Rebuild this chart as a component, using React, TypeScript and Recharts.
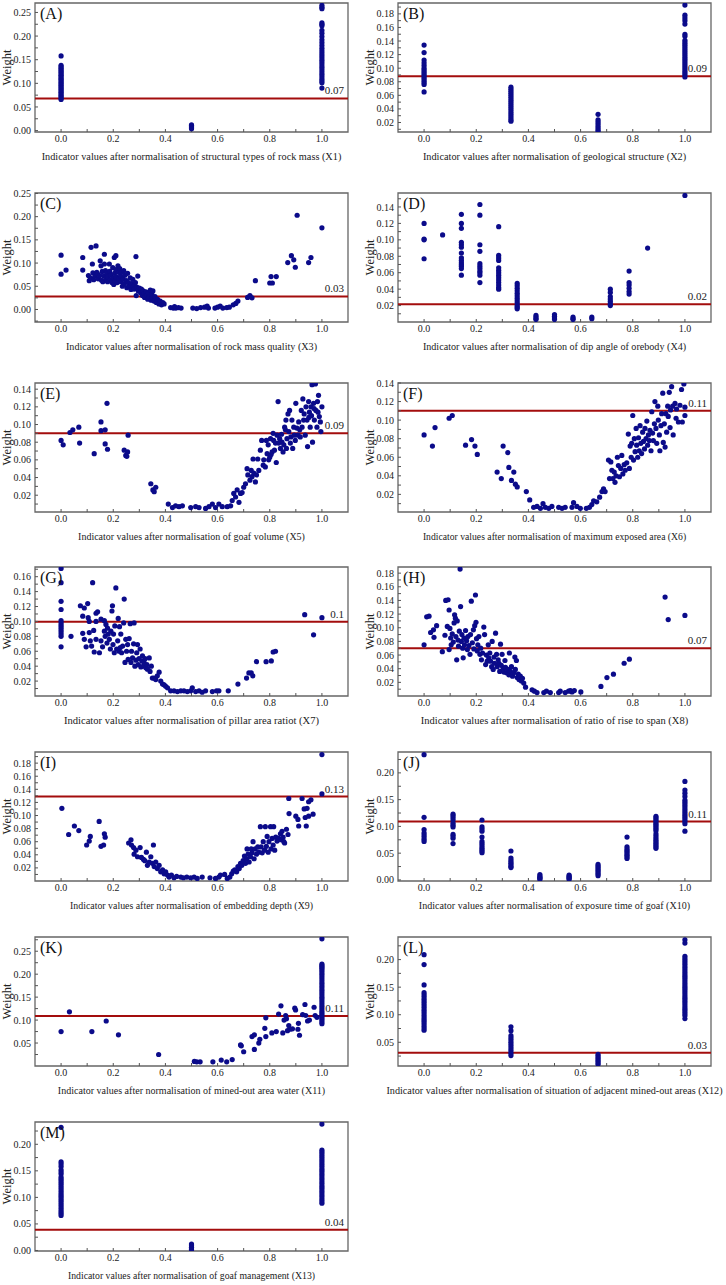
import React from 'react';
import { ScatterChart, Scatter, XAxis, YAxis, ReferenceLine, ReferenceArea, Label } from 'recharts';

type Pt = [number, number];

// ---- shared axis ticks ----
const xMajorTicks = [0, 0.2, 0.4, 0.6, 0.8, 1.0];
const xMinorTicks = [0.1, 0.3, 0.5, 0.7, 0.9];

// ---- (A) structural types of rock mass ----
const aColumns = [0, 0.5, 1];
const aWeights = [
  [0.158, 0.138, 0.135, 0.132, 0.129, 0.126, 0.123, 0.12, 0.117, 0.114, 0.111, 0.108, 0.105, 0.102, 0.099, 0.096, 0.093, 0.09, 0.087, 0.084, 0.081, 0.078, 0.075, 0.072, 0.069, 0.066],
  [0.012, 0.01, 0.008, 0.006, 0.004],
  [0.265, 0.261, 0.258, 0.228, 0.225, 0.222, 0.212, 0.206, 0.199, 0.192, 0.186, 0.18, 0.174, 0.169, 0.164, 0.159, 0.154, 0.149, 0.144, 0.139, 0.134, 0.129, 0.124, 0.119, 0.114, 0.109, 0.105, 0.101, 0.09],
];

// ---- (B) geological structure ----
const bColumns = [0, 0.333, 0.667, 1];
const bWeights = [
  [0.134, 0.123, 0.112, 0.108, 0.104, 0.1, 0.097, 0.094, 0.091, 0.088, 0.085, 0.082, 0.079, 0.076, 0.065],
  [0.072, 0.069, 0.066, 0.063, 0.06, 0.057, 0.054, 0.051, 0.048, 0.045, 0.042, 0.039, 0.036, 0.033, 0.03, 0.027, 0.024, 0.022],
  [0.032, 0.024, 0.021, 0.018, 0.015, 0.012, 0.009, 0.007],
  [0.193, 0.178, 0.174, 0.17, 0.165, 0.15, 0.147, 0.141, 0.138, 0.135, 0.132, 0.129, 0.126, 0.123, 0.12, 0.117, 0.114, 0.111, 0.108, 0.105, 0.102, 0.099, 0.096, 0.093, 0.09, 0.087],
];

// ---- (C) rock mass quality ----
const cPoints: Pt[] = [
  [0, 0.117], [0, 0.076], [0.019, 0.085], [0.083, 0.112], [0.083, 0.085], [0.105, 0.073], [0.108, 0.062], [0.113, 0.068],
  [0.115, 0.134], [0.12, 0.098], [0.122, 0.079], [0.125, 0.064], [0.13, 0.072], [0.134, 0.137], [0.137, 0.08], [0.14, 0.076],
  [0.142, 0.066], [0.148, 0.073], [0.15, 0.105], [0.153, 0.094], [0.155, 0.063], [0.158, 0.082], [0.16, 0.06], [0.164, 0.072],
  [0.166, 0.119], [0.166, 0.098], [0.17, 0.084], [0.172, 0.066], [0.175, 0.078], [0.178, 0.06], [0.18, 0.07], [0.185, 0.098],
  [0.186, 0.082], [0.19, 0.064], [0.192, 0.074], [0.195, 0.058], [0.198, 0.09], [0.2, 0.068], [0.202, 0.054], [0.204, 0.112],
  [0.205, 0.078], [0.208, 0.062], [0.21, 0.116], [0.21, 0.086], [0.212, 0.07], [0.215, 0.058], [0.218, 0.094], [0.22, 0.08],
  [0.222, 0.066], [0.225, 0.088], [0.228, 0.072], [0.23, 0.06], [0.232, 0.08], [0.235, 0.05], [0.238, 0.066], [0.24, 0.084],
  [0.243, 0.056], [0.245, 0.074], [0.25, 0.062], [0.252, 0.047], [0.255, 0.078], [0.258, 0.058], [0.262, 0.05], [0.265, 0.068],
  [0.268, 0.043], [0.27, 0.056], [0.275, 0.065], [0.278, 0.05], [0.28, 0.044], [0.285, 0.058], [0.287, 0.114], [0.288, 0.03],
  [0.29, 0.048], [0.294, 0.072], [0.296, 0.04], [0.3, 0.046], [0.305, 0.036], [0.308, 0.044], [0.312, 0.03], [0.315, 0.04],
  [0.318, 0.034], [0.32, 0.026], [0.325, 0.038], [0.328, 0.03], [0.332, 0.022], [0.335, 0.036], [0.338, 0.028], [0.342, 0.042],
  [0.345, 0.02], [0.348, 0.032], [0.35, 0.025], [0.352, 0.04], [0.356, 0.018], [0.36, 0.028], [0.365, 0.015], [0.37, 0.022],
  [0.375, 0.012], [0.38, 0.018], [0.385, 0.01], [0.39, 0.015], [0.395, 0.012],
  [0.42, 0.004], [0.43, 0.003], [0.435, 0.006], [0.44, 0.003], [0.45, 0.004], [0.46, 0.003], [0.505, 0.003], [0.52, 0.002],
  [0.535, 0.004], [0.55, 0.005], [0.56, 0.007], [0.565, 0.003], [0.59, 0.003], [0.6, 0.005], [0.61, 0.007], [0.62, 0.003],
  [0.635, 0.004], [0.645, 0.005], [0.66, 0.01], [0.67, 0.013], [0.678, 0.018],
  [0.715, 0.026], [0.724, 0.03], [0.732, 0.025], [0.745, 0.062], [0.8, 0.057], [0.805, 0.071], [0.81, 0.057], [0.825, 0.071],
  [0.869, 0.101], [0.883, 0.116], [0.892, 0.107], [0.898, 0.091], [0.905, 0.203], [0.949, 0.101], [0.958, 0.112], [1.0, 0.176],
];

// ---- (D) dip angle of orebody ----
const dColumns = [0, 0.071, 0.143, 0.214, 0.286, 0.357, 0.429, 0.5, 0.571, 0.643, 0.714, 0.786, 0.857, 1];
const dWeights = [
  [0.12, 0.101, 0.1, 0.077],
  [0.106],
  [0.131, 0.12, 0.114, 0.097, 0.094, 0.091, 0.084, 0.078, 0.075, 0.072, 0.07, 0.068, 0.065, 0.057],
  [0.143, 0.13, 0.094, 0.086, 0.071, 0.068, 0.065, 0.062, 0.06, 0.057, 0.048],
  [0.116, 0.081, 0.078, 0.075, 0.066, 0.063, 0.06, 0.057, 0.054, 0.051, 0.048, 0.045, 0.042, 0.04],
  [0.047, 0.044, 0.041, 0.038, 0.035, 0.032, 0.029, 0.026, 0.023, 0.02, 0.018, 0.016],
  [0.008, 0.006, 0.004, 0.003],
  [0.009, 0.007, 0.005, 0.003],
  [0.006, 0.004, 0.003],
  [0.006, 0.004],
  [0.04, 0.036, 0.031, 0.028, 0.025, 0.022, 0.02],
  [0.062, 0.048, 0.045, 0.041, 0.037, 0.034],
  [0.09],
  [0.154],
];

// ---- (E) goaf volume ----
const ePoints: Pt[] = [
  [0, 0.082], [0.008, 0.077], [0.034, 0.091], [0.045, 0.094], [0.068, 0.097], [0.071, 0.079], [0.127, 0.067], [0.153, 0.103],
  [0.153, 0.093], [0.169, 0.094], [0.169, 0.078], [0.176, 0.124], [0.178, 0.072], [0.242, 0.071], [0.255, 0.069], [0.248, 0.065],
  [0.257, 0.088], [0.252, 0.064], [0.344, 0.033], [0.352, 0.026], [0.363, 0.029], [0.357, 0.024],
  [0.411, 0.01], [0.427, 0.006], [0.439, 0.008], [0.452, 0.007], [0.465, 0.008], [0.497, 0.006], [0.516, 0.007], [0.529, 0.006],
  [0.554, 0.005], [0.567, 0.007], [0.58, 0.01], [0.592, 0.006], [0.605, 0.01], [0.618, 0.007], [0.637, 0.007], [0.65, 0.008],
  [0.656, 0.014], [0.662, 0.022], [0.669, 0.018], [0.675, 0.026], [0.682, 0.012],
  [0.688, 0.022], [0.694, 0.023], [0.7, 0.029], [0.707, 0.033], [0.713, 0.05], [0.716, 0.043], [0.724, 0.037], [0.729, 0.048],
  [0.732, 0.041], [0.736, 0.061], [0.739, 0.045], [0.745, 0.035], [0.749, 0.043], [0.754, 0.061], [0.758, 0.048], [0.764, 0.071],
  [0.769, 0.082], [0.775, 0.054], [0.777, 0.06], [0.783, 0.052], [0.787, 0.082], [0.79, 0.067], [0.794, 0.077], [0.796, 0.06],
  [0.8, 0.063], [0.803, 0.084], [0.805, 0.066], [0.809, 0.069], [0.813, 0.09], [0.815, 0.082], [0.818, 0.071], [0.822, 0.079],
  [0.825, 0.057], [0.828, 0.088], [0.832, 0.126], [0.834, 0.079], [0.838, 0.084], [0.841, 0.073], [0.845, 0.089], [0.847, 0.08],
  [0.851, 0.069], [0.854, 0.077], [0.857, 0.097], [0.86, 0.094], [0.862, 0.105], [0.864, 0.073], [0.866, 0.084], [0.87, 0.112],
  [0.873, 0.092], [0.876, 0.116], [0.879, 0.079], [0.881, 0.086], [0.885, 0.105], [0.888, 0.073], [0.892, 0.097], [0.894, 0.088],
  [0.898, 0.082], [0.9, 0.124], [0.904, 0.096], [0.908, 0.088], [0.911, 0.103], [0.915, 0.094], [0.917, 0.086], [0.921, 0.116],
  [0.924, 0.097], [0.927, 0.129], [0.93, 0.105], [0.932, 0.112], [0.936, 0.088], [0.939, 0.12], [0.943, 0.105], [0.945, 0.075],
  [0.949, 0.126], [0.952, 0.114], [0.955, 0.097], [0.958, 0.12], [0.962, 0.145], [0.964, 0.08], [0.968, 0.124], [0.971, 0.105],
  [0.975, 0.146], [0.977, 0.116], [0.981, 0.097], [0.983, 0.126], [0.987, 0.133], [0.99, 0.109], [0.994, 0.103], [0.996, 0.092],
  [1.0, 0.12], [0.96, 0.11], [0.97, 0.118], [0.985, 0.114], [0.95, 0.108],
];

// ---- (F) maximum exposed area ----
const fPoints: Pt[] = [
  [0, 0.084], [0.032, 0.072], [0.042, 0.092], [0.096, 0.102], [0.108, 0.105], [0.159, 0.073], [0.182, 0.079], [0.195, 0.072],
  [0.204, 0.063], [0.28, 0.044], [0.296, 0.037], [0.303, 0.072], [0.321, 0.065], [0.325, 0.049], [0.335, 0.035], [0.344, 0.044],
  [0.35, 0.031], [0.357, 0.028], [0.392, 0.023], [0.405, 0.014],
  [0.42, 0.006], [0.433, 0.007], [0.446, 0.005], [0.456, 0.01], [0.465, 0.006], [0.478, 0.005], [0.49, 0.007], [0.516, 0.006],
  [0.529, 0.005], [0.541, 0.006], [0.567, 0.006], [0.573, 0.011], [0.586, 0.007], [0.599, 0.005], [0.622, 0.005], [0.634, 0.006],
  [0.643, 0.009], [0.65, 0.013], [0.662, 0.012], [0.673, 0.017], [0.682, 0.023], [0.688, 0.026], [0.694, 0.023],
  [0.707, 0.057], [0.711, 0.037], [0.716, 0.055], [0.72, 0.046], [0.724, 0.037], [0.729, 0.044], [0.732, 0.033], [0.736, 0.04],
  [0.741, 0.06], [0.745, 0.051], [0.749, 0.039], [0.754, 0.048], [0.758, 0.062], [0.762, 0.042], [0.767, 0.052], [0.771, 0.046],
  [0.777, 0.054], [0.783, 0.085], [0.787, 0.048], [0.79, 0.072], [0.794, 0.06], [0.796, 0.075], [0.8, 0.105], [0.803, 0.057],
  [0.806, 0.08], [0.809, 0.066], [0.813, 0.091], [0.815, 0.073], [0.819, 0.06], [0.822, 0.081], [0.825, 0.067], [0.828, 0.094],
  [0.831, 0.075], [0.834, 0.064], [0.838, 0.087], [0.841, 0.077], [0.845, 0.069], [0.847, 0.091], [0.851, 0.08], [0.854, 0.099],
  [0.857, 0.073], [0.86, 0.084], [0.864, 0.078], [0.866, 0.089], [0.87, 0.067], [0.873, 0.109], [0.876, 0.086], [0.879, 0.078],
  [0.883, 0.096], [0.885, 0.12], [0.889, 0.091], [0.892, 0.075], [0.896, 0.115], [0.898, 0.1], [0.902, 0.084], [0.904, 0.067],
  [0.908, 0.094], [0.911, 0.107], [0.915, 0.129], [0.917, 0.076], [0.921, 0.096], [0.924, 0.071], [0.927, 0.107], [0.93, 0.087],
  [0.934, 0.115], [0.936, 0.104], [0.94, 0.13], [0.943, 0.092], [0.945, 0.111], [0.949, 0.136], [0.953, 0.115], [0.955, 0.084],
  [0.962, 0.118], [0.966, 0.102], [0.968, 0.112], [0.975, 0.098], [0.981, 0.116], [0.987, 0.133], [0.99, 0.098], [0.996, 0.139],
  [1.0, 0.114], [1.0, 0.105],
];

// ---- (G) pillar area ratio ----
const gPoints: Pt[] = [
  [0, 0.171], [0, 0.152], [0, 0.127], [0, 0.116], [0, 0.101], [0, 0.098], [0, 0.095], [0, 0.092], [0, 0.089], [0, 0.086],
  [0, 0.083], [0, 0.08], [0, 0.066],
  [0.038, 0.08], [0.074, 0.121], [0.083, 0.107], [0.089, 0.118], [0.083, 0.084], [0.089, 0.076], [0.096, 0.066], [0.102, 0.124],
  [0.104, 0.105], [0.108, 0.1], [0.108, 0.085], [0.112, 0.074], [0.117, 0.067], [0.121, 0.152], [0.125, 0.088], [0.127, 0.059],
  [0.134, 0.111], [0.134, 0.1], [0.134, 0.076], [0.14, 0.113], [0.147, 0.058], [0.153, 0.103], [0.153, 0.074], [0.159, 0.066],
  [0.166, 0.101], [0.166, 0.087], [0.169, 0.08], [0.172, 0.096], [0.176, 0.071], [0.178, 0.091], [0.181, 0.083], [0.185, 0.076],
  [0.189, 0.063], [0.191, 0.087], [0.195, 0.114], [0.197, 0.121], [0.199, 0.069], [0.201, 0.083], [0.204, 0.058], [0.206, 0.094],
  [0.21, 0.145], [0.213, 0.063], [0.217, 0.074], [0.219, 0.104], [0.222, 0.06], [0.224, 0.093], [0.227, 0.065], [0.229, 0.083],
  [0.232, 0.058], [0.236, 0.067], [0.24, 0.098], [0.242, 0.13], [0.245, 0.045], [0.248, 0.076], [0.251, 0.06], [0.255, 0.069],
  [0.257, 0.049], [0.261, 0.077], [0.265, 0.097], [0.268, 0.045], [0.27, 0.06], [0.274, 0.051], [0.278, 0.07], [0.28, 0.098],
  [0.283, 0.04], [0.287, 0.048], [0.29, 0.058], [0.293, 0.069], [0.296, 0.042], [0.299, 0.05], [0.303, 0.063], [0.306, 0.039],
  [0.31, 0.047], [0.312, 0.054], [0.316, 0.04], [0.318, 0.045], [0.322, 0.05], [0.325, 0.038], [0.329, 0.042], [0.331, 0.036],
  [0.338, 0.051], [0.341, 0.033], [0.346, 0.04], [0.35, 0.024], [0.357, 0.024], [0.363, 0.022], [0.369, 0.027], [0.376, 0.032],
  [0.382, 0.02], [0.389, 0.016], [0.395, 0.015], [0.401, 0.013], [0.408, 0.011],
  [0.42, 0.007], [0.433, 0.007], [0.446, 0.006], [0.459, 0.007], [0.471, 0.007], [0.484, 0.006], [0.497, 0.007], [0.503, 0.011],
  [0.516, 0.006], [0.529, 0.007], [0.541, 0.005], [0.554, 0.007], [0.58, 0.006], [0.596, 0.007], [0.605, 0.007], [0.641, 0.007],
  [0.678, 0.016], [0.711, 0.024], [0.72, 0.031], [0.729, 0.031], [0.735, 0.027], [0.749, 0.046], [0.786, 0.046], [0.806, 0.047],
  [0.813, 0.059], [0.822, 0.06], [0.934, 0.109], [0.968, 0.082], [1.0, 0.105],
];

// ---- (H) ratio of rise to span ----
const hPoints: Pt[] = [
  [0, 0.075], [0.01, 0.116], [0.019, 0.117], [0.025, 0.093], [0.036, 0.097], [0.038, 0.086], [0.048, 0.103], [0.07, 0.065],
  [0.08, 0.089], [0.083, 0.14], [0.092, 0.141], [0.089, 0.102], [0.096, 0.126], [0.096, 0.068], [0.099, 0.099], [0.102, 0.085],
  [0.104, 0.075], [0.108, 0.091], [0.112, 0.079], [0.115, 0.107], [0.117, 0.119], [0.12, 0.114], [0.122, 0.087], [0.125, 0.053],
  [0.127, 0.11], [0.13, 0.082], [0.132, 0.073], [0.135, 0.095], [0.138, 0.186], [0.14, 0.131], [0.143, 0.08], [0.145, 0.09],
  [0.148, 0.07], [0.15, 0.056], [0.153, 0.085], [0.155, 0.075], [0.159, 0.096], [0.163, 0.081], [0.166, 0.068], [0.168, 0.087],
  [0.172, 0.074], [0.176, 0.061], [0.178, 0.09], [0.181, 0.139], [0.185, 0.078], [0.189, 0.097], [0.191, 0.069], [0.194, 0.103],
  [0.197, 0.148], [0.199, 0.108], [0.201, 0.084], [0.204, 0.066], [0.206, 0.075], [0.21, 0.087], [0.214, 0.061], [0.217, 0.07],
  [0.22, 0.053], [0.224, 0.063], [0.229, 0.101], [0.232, 0.09], [0.236, 0.046], [0.239, 0.06], [0.242, 0.051], [0.246, 0.075],
  [0.248, 0.056], [0.252, 0.063], [0.255, 0.051], [0.259, 0.043], [0.261, 0.08], [0.265, 0.039], [0.268, 0.057], [0.27, 0.048],
  [0.274, 0.092], [0.278, 0.061], [0.28, 0.043], [0.284, 0.053], [0.287, 0.048], [0.29, 0.036], [0.293, 0.076], [0.296, 0.045],
  [0.299, 0.061], [0.303, 0.041], [0.306, 0.035], [0.31, 0.052], [0.312, 0.042], [0.316, 0.034], [0.321, 0.039], [0.325, 0.031],
  [0.327, 0.063], [0.331, 0.036], [0.335, 0.043], [0.339, 0.029], [0.344, 0.034], [0.348, 0.057], [0.35, 0.039], [0.354, 0.052],
  [0.357, 0.027], [0.361, 0.032], [0.364, 0.024], [0.369, 0.029], [0.373, 0.022], [0.377, 0.026], [0.382, 0.019], [0.389, 0.013],
  [0.414, 0.009], [0.423, 0.007], [0.433, 0.005], [0.459, 0.005], [0.469, 0.007], [0.484, 0.005], [0.516, 0.005], [0.522, 0.007],
  [0.541, 0.005], [0.554, 0.007], [0.561, 0.008], [0.567, 0.006], [0.576, 0.008], [0.601, 0.006],
  [0.678, 0.014], [0.701, 0.027], [0.726, 0.032], [0.767, 0.048], [0.787, 0.054], [0.924, 0.145], [0.936, 0.112], [1.0, 0.118],
];

// ---- (I) embedding depth ----
const iPoints: Pt[] = [
  [0.003, 0.111], [0.029, 0.071], [0.051, 0.084], [0.068, 0.077], [0.098, 0.055], [0.108, 0.061], [0.112, 0.068], [0.146, 0.091],
  [0.153, 0.053], [0.163, 0.055], [0.166, 0.072], [0.169, 0.067],
  [0.259, 0.058], [0.268, 0.063], [0.27, 0.055], [0.278, 0.051], [0.28, 0.041], [0.287, 0.047], [0.293, 0.037], [0.303, 0.051],
  [0.308, 0.036], [0.316, 0.033], [0.321, 0.031], [0.327, 0.044], [0.331, 0.024], [0.338, 0.029], [0.344, 0.037], [0.35, 0.027],
  [0.354, 0.055], [0.357, 0.022], [0.363, 0.029], [0.369, 0.019], [0.376, 0.024], [0.382, 0.014], [0.389, 0.017], [0.395, 0.011],
  [0.401, 0.014], [0.408, 0.009], [0.414, 0.006], [0.423, 0.009], [0.433, 0.005], [0.443, 0.007], [0.459, 0.006], [0.469, 0.005],
  [0.482, 0.006], [0.497, 0.005], [0.51, 0.006], [0.522, 0.004], [0.541, 0.006], [0.571, 0.005], [0.592, 0.004], [0.605, 0.006],
  [0.611, 0.009], [0.627, 0.01], [0.637, 0.004], [0.647, 0.006], [0.654, 0.011], [0.66, 0.015], [0.666, 0.017], [0.673, 0.014],
  [0.678, 0.022], [0.683, 0.019], [0.688, 0.027], [0.693, 0.024], [0.698, 0.031], [0.703, 0.038], [0.707, 0.027], [0.711, 0.034],
  [0.713, 0.049], [0.717, 0.041], [0.721, 0.029], [0.726, 0.037], [0.729, 0.049], [0.732, 0.043], [0.736, 0.06], [0.74, 0.034],
  [0.744, 0.049], [0.749, 0.041], [0.754, 0.052], [0.758, 0.044], [0.764, 0.083], [0.767, 0.052], [0.771, 0.043], [0.775, 0.06],
  [0.78, 0.047], [0.783, 0.083], [0.787, 0.053], [0.79, 0.068], [0.794, 0.044], [0.797, 0.06], [0.803, 0.083], [0.805, 0.049],
  [0.809, 0.065], [0.813, 0.055], [0.815, 0.083], [0.819, 0.047], [0.823, 0.067], [0.828, 0.061], [0.834, 0.065], [0.841, 0.072],
  [0.843, 0.063], [0.847, 0.076], [0.851, 0.067], [0.854, 0.06], [0.857, 0.058], [0.864, 0.079], [0.87, 0.071], [0.873, 0.126],
  [0.874, 0.103], [0.9, 0.099], [0.908, 0.094], [0.911, 0.084], [0.924, 0.126], [0.932, 0.11], [0.936, 0.097], [0.94, 0.084],
  [0.943, 0.111], [0.949, 0.121], [0.949, 0.099], [0.958, 0.124], [0.966, 0.102], [1.0, 0.133], [1.0, 0.193],
];

// ---- (J) exposure time of goaf ----
const jColumns = [0, 0.111, 0.222, 0.333, 0.444, 0.556, 0.667, 0.778, 0.889, 1];
const jWeights = [
  [0.234, 0.117, 0.094, 0.088, 0.084, 0.08, 0.076, 0.072],
  [0.123, 0.12, 0.116, 0.112, 0.106, 0.102, 0.099, 0.085, 0.082, 0.078, 0.068],
  [0.112, 0.099, 0.095, 0.091, 0.08, 0.072, 0.068, 0.064, 0.06, 0.057, 0.054, 0.051],
  [0.054, 0.041, 0.037, 0.034, 0.031, 0.028, 0.025, 0.023],
  [0.01, 0.007, 0.005, 0.003, 0.001],
  [0.009, 0.007, 0.005, 0.003, 0.001],
  [0.029, 0.026, 0.023, 0.02, 0.017, 0.014, 0.011, 0.008],
  [0.08, 0.062, 0.058, 0.055, 0.052, 0.049, 0.046, 0.043, 0.04],
  [0.119, 0.116, 0.113, 0.11, 0.107, 0.104, 0.101, 0.098, 0.095, 0.092, 0.086, 0.082, 0.078, 0.074, 0.071, 0.068, 0.065, 0.062, 0.059],
  [0.184, 0.168, 0.162, 0.156, 0.149, 0.145, 0.141, 0.137, 0.133, 0.129, 0.125, 0.121, 0.117, 0.113, 0.109, 0.105, 0.091],
];

// ---- (K) mined-out area water ----
const kPoints: Pt[] = [
  [0, 0.075], [0.032, 0.118], [0.118, 0.075], [0.173, 0.098], [0.22, 0.068], [0.374, 0.025],
  [0.511, 0.01], [0.52, 0.009], [0.533, 0.009], [0.582, 0.009], [0.614, 0.013], [0.635, 0.009], [0.656, 0.014],
  [0.688, 0.046], [0.691, 0.044], [0.7, 0.031], [0.732, 0.064], [0.741, 0.068], [0.741, 0.036], [0.758, 0.05], [0.762, 0.058],
  [0.781, 0.082], [0.785, 0.105], [0.785, 0.064], [0.808, 0.072], [0.825, 0.075], [0.834, 0.113], [0.843, 0.131], [0.85, 0.072],
  [0.855, 0.1], [0.861, 0.11], [0.864, 0.103], [0.868, 0.077], [0.873, 0.088], [0.878, 0.08], [0.887, 0.081], [0.896, 0.126],
  [0.899, 0.122], [0.908, 0.08], [0.91, 0.093], [0.914, 0.067], [0.926, 0.112], [0.935, 0.134], [0.938, 0.11], [0.945, 0.098],
  [0.952, 0.1], [0.97, 0.128], [0.974, 0.11], [0.981, 0.106],
];
const kAtOne = [0.277, 0.222, 0.219, 0.216, 0.213, 0.209, 0.205, 0.2, 0.195, 0.19, 0.185, 0.18, 0.175, 0.17, 0.165, 0.16, 0.155, 0.15, 0.145, 0.14, 0.135, 0.13, 0.125, 0.12, 0.116, 0.112, 0.108, 0.104, 0.1, 0.096, 0.092];

// ---- (L) situation of adjacent mined-out areas ----
const lColumns = [0, 0.333, 0.667, 1];
const lWeights = [
  [0.209, 0.191, 0.154, 0.14, 0.136, 0.132, 0.128, 0.124, 0.12, 0.116, 0.112, 0.108, 0.104, 0.1, 0.096, 0.092, 0.088, 0.084, 0.08, 0.076, 0.072],
  [0.078, 0.071, 0.062, 0.058, 0.054, 0.05, 0.046, 0.042, 0.038, 0.034, 0.03, 0.026],
  [0.028, 0.025, 0.022, 0.019, 0.016, 0.013, 0.01],
  [0.236, 0.23, 0.206, 0.202, 0.198, 0.194, 0.19, 0.186, 0.182, 0.178, 0.174, 0.17, 0.166, 0.162, 0.158, 0.154, 0.15, 0.146, 0.142, 0.138, 0.134, 0.13, 0.126, 0.122, 0.118, 0.114, 0.11, 0.106, 0.102, 0.098, 0.093],
];

// ---- (M) goaf management ----
const mColumns = [0, 0.5, 1];
const mWeights = [
  [0.232, 0.167, 0.163, 0.158, 0.152, 0.148, 0.144, 0.138, 0.134, 0.13, 0.126, 0.122, 0.118, 0.114, 0.11, 0.106, 0.102, 0.098, 0.094, 0.09, 0.086, 0.082, 0.078, 0.074, 0.07, 0.066],
  [0.012, 0.009, 0.006, 0.003, 0.001],
  [0.238, 0.189, 0.185, 0.181, 0.177, 0.173, 0.169, 0.165, 0.161, 0.157, 0.153, 0.149, 0.145, 0.141, 0.137, 0.133, 0.129, 0.125, 0.121, 0.117, 0.113, 0.109, 0.105, 0.101, 0.097, 0.093, 0.089],
];

// mean weights (red lines) and their printed labels
const meanWeights = [0.068, 0.088, 0.028, 0.0215, 0.09, 0.11, 0.0996, 0.0698, 0.129, 0.109, 0.109, 0.031, 0.039];
const meanLabels = ['0.07', '0.09', '0.03', '0.02', '0.09', '0.11', '0.1', '0.07', '0.13', '0.11', '0.11', '0.03', '0.04'];

const xLabels = [
  'Indicator values after normalisation of structural types of rock mass (X1)',
  'Indicator values after normalisation of geological structure (X2)',
  'Indicator values after normalisation of rock mass quality (X3)',
  'Indicator values after normalisation of dip angle of orebody (X4)',
  'Indicator values after normalisation of goaf volume (X5)',
  'Indicator values after normalisation of maximum exposed area (X6)',
  'Indicator values after normalisation of pillar area ratiot (X7)',
  'Indicator values after normalisation of ratio of rise to span (X8)',
  'Indicator values after normalisation of embedding depth (X9)',
  'Indicator values after normalisation of exposure time of goaf (X10)',
  'Indicator values after normalisation of mined-out area water (X11)',
  'Indicator values after normalisation of situation of adjacent mined-out areas (X12)',
  'Indicator values after normalisation of goaf management (X13)',
];

const yMajorTicks = [
  [0, 0.05, 0.1, 0.15, 0.2, 0.25],
  [0.02, 0.04, 0.06, 0.08, 0.1, 0.12, 0.14, 0.16, 0.18],
  [0, 0.05, 0.1, 0.15, 0.2, 0.25],
  [0.02, 0.04, 0.06, 0.08, 0.1, 0.12, 0.14],
  [0.02, 0.04, 0.06, 0.08, 0.1, 0.12, 0.14],
  [0.02, 0.04, 0.06, 0.08, 0.1, 0.12, 0.14],
  [0.02, 0.04, 0.06, 0.08, 0.1, 0.12, 0.14, 0.16],
  [0.02, 0.04, 0.06, 0.08, 0.1, 0.12, 0.14, 0.16, 0.18],
  [0.02, 0.04, 0.06, 0.08, 0.1, 0.12, 0.14, 0.16, 0.18],
  [0, 0.05, 0.1, 0.15, 0.2],
  [0.05, 0.1, 0.15, 0.2, 0.25],
  [0.05, 0.1, 0.15, 0.2],
  [0, 0.05, 0.1, 0.15, 0.2],
];

const fromColumns = (cols: number[], weights: number[][]) =>
  cols.flatMap((x, i) => weights[i].map((y) => ({ x, y })));
const fromPairs = (pts: Pt[]) => pts.map(([x, y]) => ({ x, y }));

const panelData = [
  fromColumns(aColumns, aWeights),
  fromColumns(bColumns, bWeights),
  fromPairs(cPoints),
  fromColumns(dColumns, dWeights),
  fromPairs(ePoints),
  fromPairs(fPoints),
  fromPairs(gPoints),
  fromPairs(hPoints),
  fromPairs(iPoints),
  fromColumns(jColumns, jWeights),
  [...fromPairs(kPoints), ...kAtOne.map((y) => ({ x: 1, y }))],
  fromColumns(lColumns, lWeights),
  fromColumns(mColumns, mWeights),
];

// layout: y domains and the top edge of each plot box
const yDomains: [number, number][] = [
  [-0.003, 0.27], [0.006, 0.196], [-0.027, 0.251], [0, 0.157], [0.001, 0.147], [0.001, 0.14], [0, 0.173],
  [0, 0.189], [0, 0.197], [-0.002, 0.239], [0, 0.281], [0.007, 0.241], [-0.001, 0.242],
];
const rowTops = [3, 193, 383, 567, 752, 937, 1122];
const letters = 'ABCDEFGHIJKLM';

const SERIF = '"Liberation Serif", "Times New Roman", Times, serif';
const NAVY = '#0b0b8a';
const RED = '#a30d0d';
const FRAME = '#666';

const dot = (p: any) => <circle cx={p.cx} cy={p.cy} r={2.6} fill={NAVY} />;

const Panel = ({ idx }: { idx: number }) => {
  const domain = yDomains[idx];
  const majors = yMajorTicks[idx];
  const step = majors[1] - majors[0];
  const minors = majors.slice(0, -1).map((v, i) => (v + majors[i + 1]) / 2);
  if (majors[0] - step / 2 > domain[0]) minors.unshift(majors[0] - step / 2);
  if (majors[majors.length - 1] + step / 2 < domain[1]) minors.push(majors[majors.length - 1] + step / 2);
  const yTicks = [...majors, ...minors].sort((a, b) => a - b);
  const xTicks = [...xMajorTicks, ...xMinorTicks].sort((a, b) => a - b);
  const text = xLabels[idx];
  const labelSize = text.length > 76 ? 9.4 : 10.5;

  return (
    <div style={{ position: 'absolute', left: (idx % 2) * 363, top: rowTops[Math.floor(idx / 2)] - 5 }}>
      <ScatterChart
        width={363}
        height={166}
        margin={{ top: 5, right: 15, bottom: 0, left: 0 }}
        style={{ fontFamily: SERIF }}
      >
        <XAxis
          type="number"
          dataKey="x"
          domain={[-0.1, 1.1]}
          ticks={xTicks}
          interval={0}
          allowDataOverflow
          tickFormatter={(v: number) => (xMajorTicks.includes(v) ? v.toFixed(1) : '')}
          tickSize={-3}
          tickMargin={6}
          axisLine={false}
          tickLine={{ stroke: '#555' }}
          tick={{ fill: '#222', fontSize: 10, fontFamily: SERIF }}
          height={32}
          label={
            <Label
              content={(p: any) => (
                <text
                  x={p.viewBox.x + p.viewBox.width / 2}
                  y={p.viewBox.y + 28}
                  textAnchor="middle"
                  fontSize={labelSize}
                  fontFamily={SERIF}
                  fill="#222"
                  textLength={text.length * 4.05}
                  lengthAdjust="spacingAndGlyphs"
                >
                  {text}
                </text>
              )}
            />
          }
        />
        <YAxis
          type="number"
          dataKey="y"
          domain={domain}
          ticks={yTicks}
          interval={0}
          allowDataOverflow
          tickFormatter={(v: number) => (majors.includes(v) ? v.toFixed(2) : '')}
          tickSize={-3}
          tickMargin={7}
          axisLine={false}
          tickLine={{ stroke: '#555' }}
          tick={{ fill: '#222', fontSize: 10, fontFamily: SERIF }}
          width={35}
          label={
            <Label
              content={(p: any) => {
                const cy = p.viewBox.y + p.viewBox.height / 2;
                return (
                  <text
                    x={7}
                    y={cy}
                    transform={`rotate(-90 7 ${cy})`}
                    textAnchor="middle"
                    dy="0.35em"
                    fontSize={12.5}
                    fontFamily={SERIF}
                    fill="#222"
                  >
                    Weight
                  </text>
                );
              }}
            />
          }
        />
        <ReferenceArea
          x1={-0.1}
          x2={1.1}
          y1={domain[0]}
          y2={domain[1]}
          fill="none"
          stroke={FRAME}
          strokeWidth={1.3}
          ifOverflow="visible"
          label={{ value: `(${letters[idx]})`, position: 'insideTopLeft', offset: 5, fontSize: 16, fill: '#111', fontFamily: SERIF }}
        />
        <ReferenceLine
          y={meanWeights[idx]}
          stroke={RED}
          strokeWidth={2}
          label={{ value: meanLabels[idx], position: 'insideBottomRight', offset: 4, fontSize: 11, fill: '#222', fontFamily: SERIF }}
        />
        <Scatter data={panelData[idx]} isAnimationActive={false} shape={dot} />
      </ScatterChart>
    </div>
  );
};

export default function App() {
  return (
    <div
      style={{
        position: 'absolute',
        left: 0,
        top: 0,
        width: 726,
        height: 1285,
        background: '#fff',
        fontFamily: SERIF,
      }}
    >
      {panelData.map((_, i) => (
        <Panel key={i} idx={i} />
      ))}
    </div>
  );
}
